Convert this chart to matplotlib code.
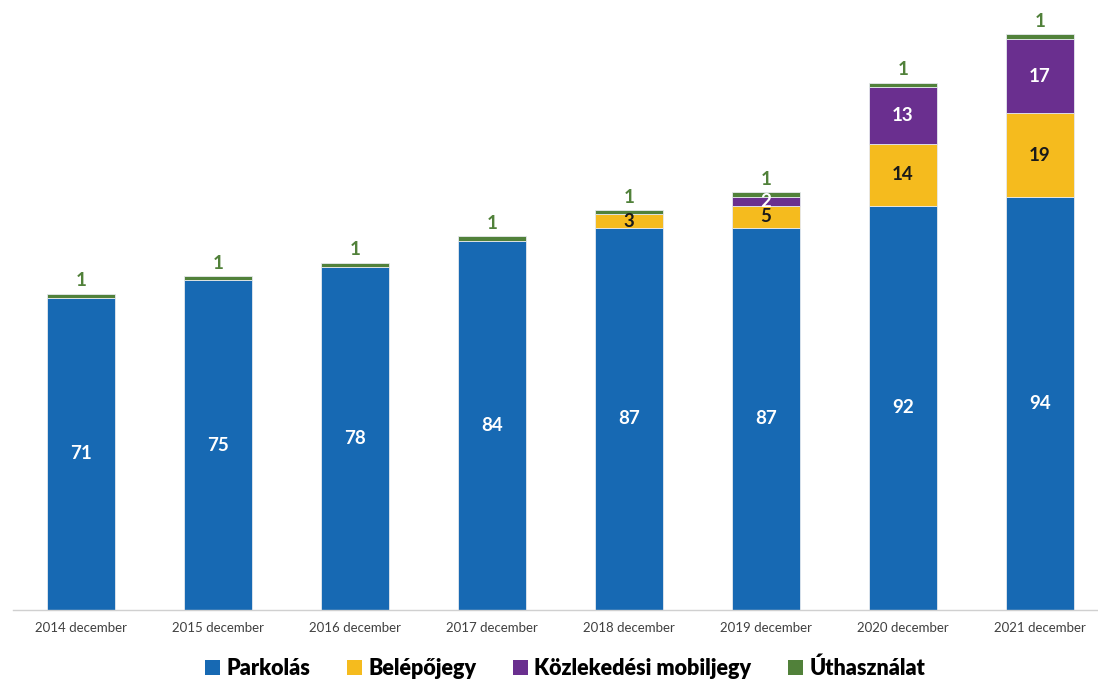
import numpy as np
import matplotlib.pyplot as plt
from matplotlib.patches import Patch

plt.rcParams['font.family'] = ['Lato', 'DejaVu Sans']

honapok = ['2014 december', '2015 december', '2016 december', '2017 december',
           '2018 december', '2019 december', '2020 december', '2021 december']
parkolas = [71, 75, 78, 84, 87, 87, 92, 94]
belepojegy = [0, 0, 0, 0, 3, 5, 14, 19]
mobiljegy = [0, 0, 0, 0, 0, 2, 13, 17]
uthasznalat = [1, 1, 1, 1, 1, 1, 1, 1]

sorozatok = ['Parkolás', 'Belépőjegy', 'Közlekedési mobiljegy', 'Úthasználat']
szinek = ['#1769b3', '#f5bb1e', '#6a2f8f', '#51813a']
cimke_szin = ['white', '#1a1a1a', 'white', None]

fig = plt.figure(figsize=(10.98, 6.81), dpi=100)
ax = fig.add_axes([12.5 / 1098, 71 / 681, 1096 / 1098, 610 / 681])

x = np.arange(len(honapok))
also = np.zeros(len(honapok))
for nev, ertekek, szin, tszin in zip(sorozatok, [parkolas, belepojegy, mobiljegy, uthasznalat],
                                     szinek, cimke_szin):
    ertekek = np.array(ertekek, dtype=float)
    ax.bar(x, ertekek, 0.5, bottom=also, color=szin, edgecolor='#e6e9ee', linewidth=0.6)
    for i, v in enumerate(ertekek):
        if v <= 0:
            continue
        if tszin is None:
            # Úthasználat label sits above the bar
            ax.text(x[i], also[i] + v + 1.0, f'{v:.0f}', ha='center', va='bottom',
                    color=szin, fontsize=13.5, fontweight='bold')
        else:
            ax.text(x[i], also[i] + v / 2, f'{v:.0f}', ha='center', va='center',
                    color=tszin, fontsize=13.5, fontweight='bold')
    also += ertekek

ax.set_xlim(-0.5, 7.5)
ax.set_ylim(0, 138.8)
ax.set_yticks([])
ax.set_xticks(x)
ax.set_xticklabels(honapok, fontsize=9.5, color='#404040')
ax.tick_params(axis='x', length=0, pad=9)
for s in ['top', 'right', 'left']:
    ax.spines[s].set_visible(False)
ax.spines['bottom'].set_color('#d0d0d0')
ax.spines['bottom'].set_linewidth(1)

kezelok = [Patch(facecolor=c, edgecolor='none') for c in szinek]
fig.legend(kezelok, sorozatok, loc='center', bbox_to_anchor=(565 / 1098, 1 - 668 / 681),
           ncol=4, frameon=False, prop={'size': 15.5, 'weight': 'heavy'},
           handlelength=0.7, handleheight=0.7, handletextpad=0.3, columnspacing=1.7)

fig.savefig('out.png', dpi=100, facecolor='white')
